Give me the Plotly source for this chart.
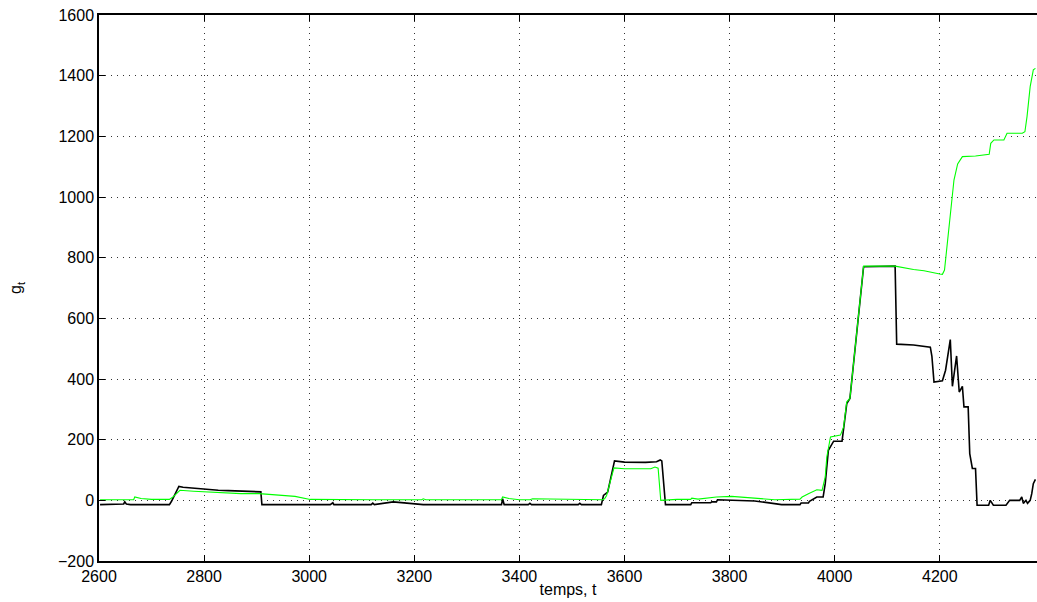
import plotly.graph_objects as go

# black series g_t
t_black = [2602, 2640, 2647, 2649, 2652, 2660, 2734, 2738, 2748, 2752, 2760, 2778, 2795, 2816,
           2827, 2846, 2880, 2908, 2910, 3040, 3045, 3047, 3118, 3121, 3124, 3157, 3160, 3217,
           3366, 3368, 3371, 3417, 3420, 3423, 3512, 3515, 3518, 3556, 3560, 3568, 3575, 3581,
           3600, 3640, 3661, 3668, 3671, 3678, 3700, 3726, 3728, 3764, 3766, 3775, 3777, 3800,
           3848, 3899, 3934, 3936, 3950, 3952, 3966, 3978, 3982, 3988, 3998, 4014, 4017, 4023,
           4029, 4055, 4115, 4118, 4150, 4182, 4185, 4189, 4205, 4211, 4220, 4224, 4232, 4237,
           4243, 4246, 4254, 4257, 4262, 4268, 4271, 4293, 4296, 4302, 4326, 4333, 4352, 4356,
           4359, 4364, 4367, 4372, 4375, 4378, 4382]
g_black = [-14, -14, -12, -5, -12, -14, -14, -3, 30, 46, 43, 40, 38, 35,
           33, 32, 31, 28, -14, -14, -8, -14, -14, -9, -14, -5, -5, -14,
           -14, 5, -14, -14, -10, -14, -14, -10, -14, -14, 16, 27, 89, 130,
           126, 125, 127, 133, 130, -14, -14, -14, -8, -8, -5, -5, 2, 0,
           -2, -14, -14, -9, -9, -3, 11, 11, 55, 165, 195, 195, 231, 319,
           336, 770, 772, 515, 512, 505, 475, 390, 394, 429, 530, 376, 476, 357,
           376, 308, 308, 154, 105, 105, -16, -16, 0, -16, -16, 0, 0, 11,
           -10, 0, -10, 0, 22, 55, 69]

# green series g_t
t_green = [2602, 2666, 2668, 2680, 2700, 2734, 2740, 2754, 2780, 2843, 2870, 2905, 2948, 2973,
           3002, 3050, 3121, 3214, 3217, 3222, 3366, 3368, 3380, 3400, 3420, 3425, 3512, 3515,
           3520, 3558, 3562, 3566, 3572, 3580, 3600, 3650, 3658, 3664, 3669, 3700, 3726, 3728,
           3740, 3775, 3804, 3850, 3886, 3934, 3938, 3950, 3966, 3976, 3982, 3985, 3992, 4011,
           4017, 4023, 4029, 4055, 4115, 4150, 4170, 4200, 4205, 4209, 4218, 4227, 4234, 4243,
           4268, 4294, 4297, 4303, 4322, 4328, 4357, 4362, 4366, 4372, 4378, 4382]
g_green = [2, 2, 11, 6, 3, 3, 10, 33, 30, 25, 22, 22, 16, 13,
           3, 2, 2, 2, 5, 2, 2, 11, 6, 2, 2, 5, 3, 5,
           3, 2, 5, 16, 56, 107, 104, 104, 110, 106, 0, 3, 3, 7,
           4, 11, 13, 8, 2, 4, 11, 22, 35, 33, 77, 143, 209, 215,
           242, 325, 336, 772, 772, 761, 757, 746, 745, 759, 913, 1056, 1109, 1133,
           1135, 1141, 1177, 1188, 1188, 1210, 1210, 1215, 1265, 1364, 1419, 1424]

x_ticks = [2600, 2800, 3000, 3200, 3400, 3600, 3800, 4000, 4200]
y_ticks = [-200, 0, 200, 400, 600, 800, 1000, 1200, 1400, 1600]

fig = go.Figure()
fig.add_trace(go.Scatter(x=t_black, y=g_black, mode="lines",
                         line=dict(color="black", width=1.6), showlegend=False))
fig.add_trace(go.Scatter(x=t_green, y=g_green, mode="lines",
                         line=dict(color="#00FF00", width=1.1), showlegend=False))

font = "Liberation Sans, Arial, Helvetica, sans-serif"
fig.update_layout(
    width=1037, height=602,
    margin=dict(l=99, r=0, t=15, b=41),
    plot_bgcolor="white", paper_bgcolor="white",
    font=dict(family=font, size=16, color="black"),
    showlegend=False,
)
fig.update_xaxes(
    range=[2600, 4385], tickvals=x_ticks, ticktext=[str(v) for v in x_ticks],
    ticks="inside", ticklen=6, tickcolor="black", tickwidth=1,
    showline=True, linecolor="black", linewidth=1.5, mirror="allticks",
    showgrid=True, gridcolor="#333333", gridwidth=1, griddash="1px,5px",
    zeroline=False, tickfont=dict(size=16),
    title=dict(text="temps, t", font=dict(size=16), standoff=0),
    automargin=False,
)
fig.update_yaxes(
    range=[-200, 1600], tickvals=y_ticks,
    ticktext=["\u2212200" if v < 0 else str(v) for v in y_ticks],
    ticks="inside", ticklen=6, tickcolor="black", tickwidth=1,
    showline=True, linecolor="black", linewidth=1.5, mirror=False,
    showgrid=True, gridcolor="#333333", gridwidth=1, griddash="1px,5px",
    zeroline=False, tickfont=dict(size=16),
    title=dict(text="g<sub>t</sub>", font=dict(size=16), standoff=32),
    automargin=False,
)

fig.write_html("out.html",
               config={"displayModeBar": False},
               post_script="document.body.style.margin='0';document.body.style.overflow='hidden';")
